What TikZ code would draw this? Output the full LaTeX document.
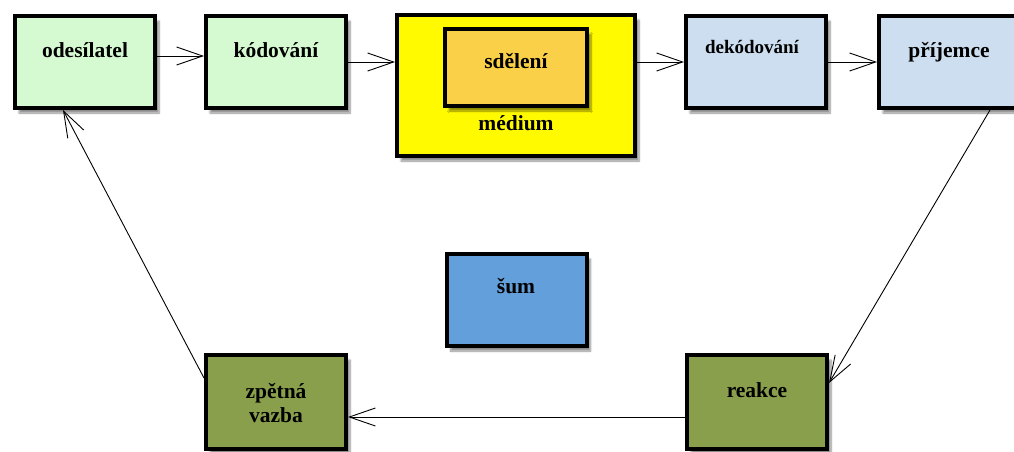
\documentclass[tikz,border=0pt]{standalone}
\usepackage{fontspec}
\setmainfont{Liberation Serif}
\usetikzlibrary{arrows.meta, shadows.blur}
\definecolor{lightgreen}{RGB}{213,249,208}
\definecolor{brightyellow}{RGB}{255,250,0}
\definecolor{msgorange}{RGB}{250,208,72}
\definecolor{lightblue}{RGB}{205,222,240}
\definecolor{noiseblue}{RGB}{99,159,218}
\definecolor{olive}{RGB}{138,159,76}
\tikzstyle{box}=[draw, line width=4pt, rectangle, inner sep=0pt, minimum width=140pt, minimum height=92pt, blur shadow={shadow xshift=4pt, shadow yshift=-5pt, shadow blur steps=8, shadow opacity=45}]
\tikzstyle{lbl}=[font=\bfseries\fontsize{21.5}{24}\selectfont, anchor=base, align=center]
\tikzstyle{arr}=[-{Straight Barb[length=26pt, width=18pt]}, line width=0.9pt]

\begin{document}
\begin{tikzpicture}[x=1pt, y=-1pt]
    \clip (0,0) rectangle (1014,452);
% Boxes
    \node[box, fill=lightgreen] (odes) at (85,62) {};
    \node[box, fill=lightgreen] (kod) at (276,62) {};
    \node[box, fill=brightyellow, minimum width=238pt, minimum height=141pt] (med) at (516,85.5) {};
    \node[box, fill=msgorange, minimum width=142pt, minimum height=77pt] (sdel) at (516,67.5) {};
    \node[box, fill=lightblue] (dek) at (756,62) {};
    \node[box, fill=lightblue] (prij) at (949,62) {};
    \node[box, fill=noiseblue] (sum) at (516.5,300) {};
    \node[box, fill=olive, minimum height=94pt] (zpet) at (276,402) {};
    \node[box, fill=olive, minimum height=94pt] (reak) at (757,402) {};
% Labels
    \node[lbl] (odes-t) at (85,57) {odesílatel};
    \node[lbl] (kod-t) at (276,57) {kódování};
    \node[lbl] (sdel-t) at (516,69) {sdělení};
    \node[lbl] (med-t) at (516,130) {médium};
    \node[lbl, font=\bfseries\fontsize{19}{22}\selectfont] (dek-t) at (752,53) {dekódování};
    \node[lbl] (prij-t) at (949,58) {příjemce};
    \node[lbl] (sum-t) at (516,293) {šum};
    \node[lbl] (zpet-t) at (276,422) {zpětná\\vazba};
    \node[lbl] (reak-t) at (757,397) {reakce};
% Arrows
    \draw[arr] ([yshift=6pt]odes.east) -- ([yshift=6pt]kod.west);
    \draw[arr] (kod.east) -- (kod.east -| med.west);
    \draw[arr] (dek.west -| med.east) -- (dek.west);
    \draw[arr] (dek.east) -- (prij.west);
    \draw[arr] ([xshift=41pt]prij.south) -- ([yshift=19pt]reak.east);
    \draw[arr] ([yshift=-15pt]reak.west) -- ([yshift=-15pt]zpet.east);
    \draw[arr] ([yshift=24pt]zpet.west) -- ([xshift=-22pt]odes.south);
\end{tikzpicture}
\end{document}
